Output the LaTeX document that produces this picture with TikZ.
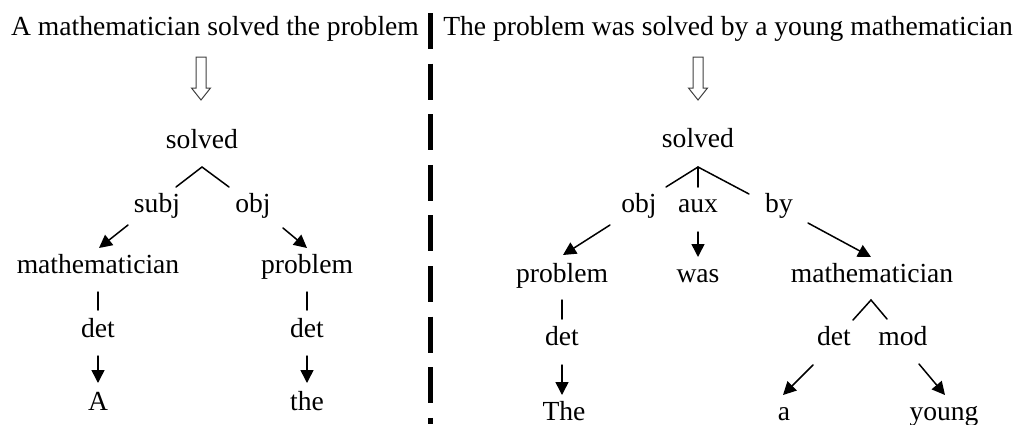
\documentclass[tikz,border=0pt]{standalone}
\usepackage{fontspec}
\setmainfont{Liberation Serif}
\usetikzlibrary{arrows.meta,calc}

\tikzset{
  word/.style={inner sep=0pt, outer sep=0pt, anchor=base,
    font=\fontsize{27.6}{33}\selectfont},
  edge/.style={line width=1.5pt, line cap=round},
  dep/.style={edge, -{Triangle[length=13pt,width=13pt]}},
  hollow/.style={draw=black!75, line width=1pt, fill=white, line join=miter},
  divider/.style={line width=4.6pt, dash pattern=on 36pt off 14.6pt}
}

\begin{document}
\begin{tikzpicture}[x=1pt, y=-1pt]
\useasboundingbox (0,0) rectangle (1015,424);

% sentences
\node[word] (sa) at (215,35) {A mathematician solved the problem};
\node[word] (sb) at (728,35) {The problem was solved by a young mathematician};

% separator between the two analyses
\coordinate (divtop) at (430.5,13);
\coordinate (divbot) at (430.5,424);
\draw[divider] (divtop) -- (divbot);

% ---------- active sentence ----------
\node[word] (solvedL) at (202,148) {solved};
\node[word] (subjL)   at (157,212) {subj};
\node[word] (objL)    at (253,212) {obj};
\node[word] (mathL)   at (98,273)  {mathematician};
\node[word] (probL)   at (307,273) {problem};
\node[word] (detLa)   at (98,337)  {det};
\node[word] (detLb)   at (307,337) {det};
\node[word] (AL)      at (98,410)  {A};
\node[word] (theL)    at (307,410) {the};

\draw[hollow] ($(solvedL.base)+(-6,-91)$) -- ++(0,31) -- ++(-4.5,0) -- ++(9.5,12)
  -- ++(9.5,-12) -- ++(-4.5,0) -- ++(0,-31) -- cycle;

\draw[edge] ($(subjL.base)+(19,-25)$) -- ($(solvedL.base)+(0,19)$) -- ($(objL.base)+(-24,-25)$);
\draw[dep] ($(subjL.base)+(-29,13)$) -- ($(mathL.base)+(1,-25)$);
\draw[dep] ($(objL.base)+(30,16)$) -- ($(probL.base)+(0,-25)$);
\draw[edge] ($(mathL.base)+(0,19)$) -- ($(detLa.base)+(0,-27)$);
\draw[edge] ($(probL.base)+(0,19)$) -- ($(detLb.base)+(0,-27)$);
\draw[dep] ($(detLa.base)+(0,19)$) -- ($(AL.base)+(0,-27)$);
\draw[dep] ($(detLb.base)+(0,19)$) -- ($(theL.base)+(0,-27)$);

% ---------- passive sentence ----------
\node[word] (solvedR) at (698,147) {solved};
\node[word] (objR)    at (639,212) {obj};
\node[word] (auxR)    at (698,212) {aux};
\node[word] (byR)     at (779,212) {by};
\node[word] (probR)   at (562,282) {problem};
\node[word] (wasR)    at (698,282) {was};
\node[word] (mathR)   at (872,282) {mathematician};
\node[word] (detRa)   at (562,345) {det};
\node[word] (detRb)   at (834,345) {det};
\node[word] (modR)    at (903,345) {mod};
\node[word] (theR)    at (564,420) {The};
\node[word] (aR)      at (784,420) {a};
\node[word] (youngR)  at (944,420) {young};

\draw[hollow] ($(solvedR.base)+(-5,-90)$) -- ++(0,31) -- ++(-4.5,0) -- ++(9.5,12)
  -- ++(9.5,-12) -- ++(-4.5,0) -- ++(0,-31) -- cycle;

\draw[edge] ($(objR.base)+(27,-25)$) -- ($(solvedR.base)+(0,20)$) -- ($(byR.base)+(-30,-18)$);
\draw[edge] ($(solvedR.base)+(0,20)$) -- ($(auxR.base)+(0,-25)$);
\draw[dep] ($(objR.base)+(-29,13)$) -- ($(probR.base)+(1,-27)$);
\draw[dep] ($(auxR.base)+(0,20)$) -- ($(wasR.base)+(0,-25)$);
\draw[dep] ($(byR.base)+(29,11)$) -- ($(mathR.base)+(-1,-25)$);
\draw[edge] ($(probR.base)+(0,18)$) -- ($(detRa.base)+(0,-26)$);
\draw[dep] ($(detRa.base)+(0,20)$) -- ($(theR.base)+(-2,-25)$);
\draw[edge] ($(detRb.base)+(19,-25)$) -- ($(mathR.base)+(-1,18)$) -- ($(modR.base)+(-16,-26)$);
\draw[dep] ($(detRb.base)+(-21,20)$) -- ($(aR.base)+(-1,-25)$);
\draw[dep] ($(modR.base)+(16,19)$) -- ($(youngR.base)+(1,-25)$);
\end{tikzpicture}
\end{document}
